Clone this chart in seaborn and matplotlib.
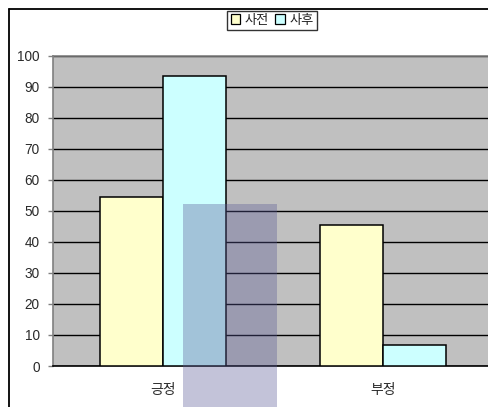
import matplotlib
matplotlib.use("Agg")
import matplotlib.pyplot as plt
from matplotlib.lines import Line2D
from matplotlib.patches import Rectangle
import seaborn as sns
import pandas as pd

# Survey responses before/after, percent
categories = ["긍정", "부정"]
series = ["사전", "사후"]
before = [54.5, 45.3]
after = [93.4, 6.7]
yticks = [0, 10, 20, 30, 40, 50, 60, 70, 80, 90, 100]

df = pd.DataFrame({
    "구분": categories * 2,
    "시점": [series[0]] * len(categories) + [series[1]] * len(categories),
    "값": before + after,
})

sns.set_theme(style="white")
plt.rcParams["font.family"] = ["Liberation Sans", "Noto Sans CJK KR"]

W, H = 489, 407
fig = plt.figure(figsize=(W / 100, H / 100), dpi=100)
fig.patch.set_facecolor("white")

left, right, top, bottom = 53, 489, 55.5, 366
ax = fig.add_axes([left / W, 1 - bottom / H, (right - left) / W, (bottom - top) / H])
ax.set_facecolor("#C0C0C0")

palette = {"사전": "#FFFFCC", "사후": "#CCFFFF"}
sns.barplot(data=df, x="구분", y="값", hue="시점", order=categories,
            hue_order=series, palette=palette, width=0.573,
            edgecolor="black", linewidth=1.1, saturation=1,
            legend=False, ax=ax, zorder=3)

ax.set_ylim(0, 100)
ax.set_xlim(-0.5, 1.482)
ax.set_yticks(yticks)
ax.set_yticklabels([str(v) for v in yticks])
ax.set_xlabel("")
ax.set_ylabel("")

ax.yaxis.grid(True, color="black", linewidth=1.0, zorder=0)
ax.set_axisbelow(True)
ax.xaxis.grid(False)

ax.tick_params(axis="y", which="major", left=True, length=3.5, width=1,
               color="#808080", pad=6, labelsize=9.8, labelcolor="#2a2a2a")
ax.tick_params(axis="x", bottom=False, pad=6, labelsize=10, labelcolor="#2a2a2a")

ax.spines["left"].set_color("#808080")
ax.spines["top"].set_color("#808080")
ax.spines["bottom"].set_color("black")
ax.spines["right"].set_visible(False)
for s in ("left", "top", "bottom"):
    ax.spines[s].set_linewidth(1.2)

# Legend centred above the plot area
handles = [Rectangle((0, 0), 1, 1, facecolor=palette[s], edgecolor="black", linewidth=0.9)
           for s in series]
leg = fig.legend(handles, series, loc="upper center",
                 bbox_to_anchor=(272 / W, 1 - 11 / H), ncol=2, frameon=True,
                 fancybox=False, edgecolor="black", fontsize=9.5,
                 handlelength=0.75, handleheight=0.75, handletextpad=0.3,
                 columnspacing=0.5, borderpad=0.25, borderaxespad=0)
leg.get_frame().set_linewidth(1.0)
for t in leg.get_texts():
    t.set_color("#222222")

# Outer chart frame
fig.add_artist(Line2D([9 / W, 1.0], [1 - 9 / H, 1 - 9 / H], color="black", linewidth=1.3))
fig.add_artist(Line2D([9 / W, 9 / W], [1 - 9 / H, 0.0], color="black", linewidth=1.3))

# Translucent overlay band
fig.add_artist(Rectangle((183 / W, 0), (277 - 183) / W, 1 - 204 / H,
                         transform=fig.transFigure, facecolor="#5A5A96",
                         alpha=0.36, edgecolor="none", zorder=10))

fig.savefig("out.png", dpi=100)
